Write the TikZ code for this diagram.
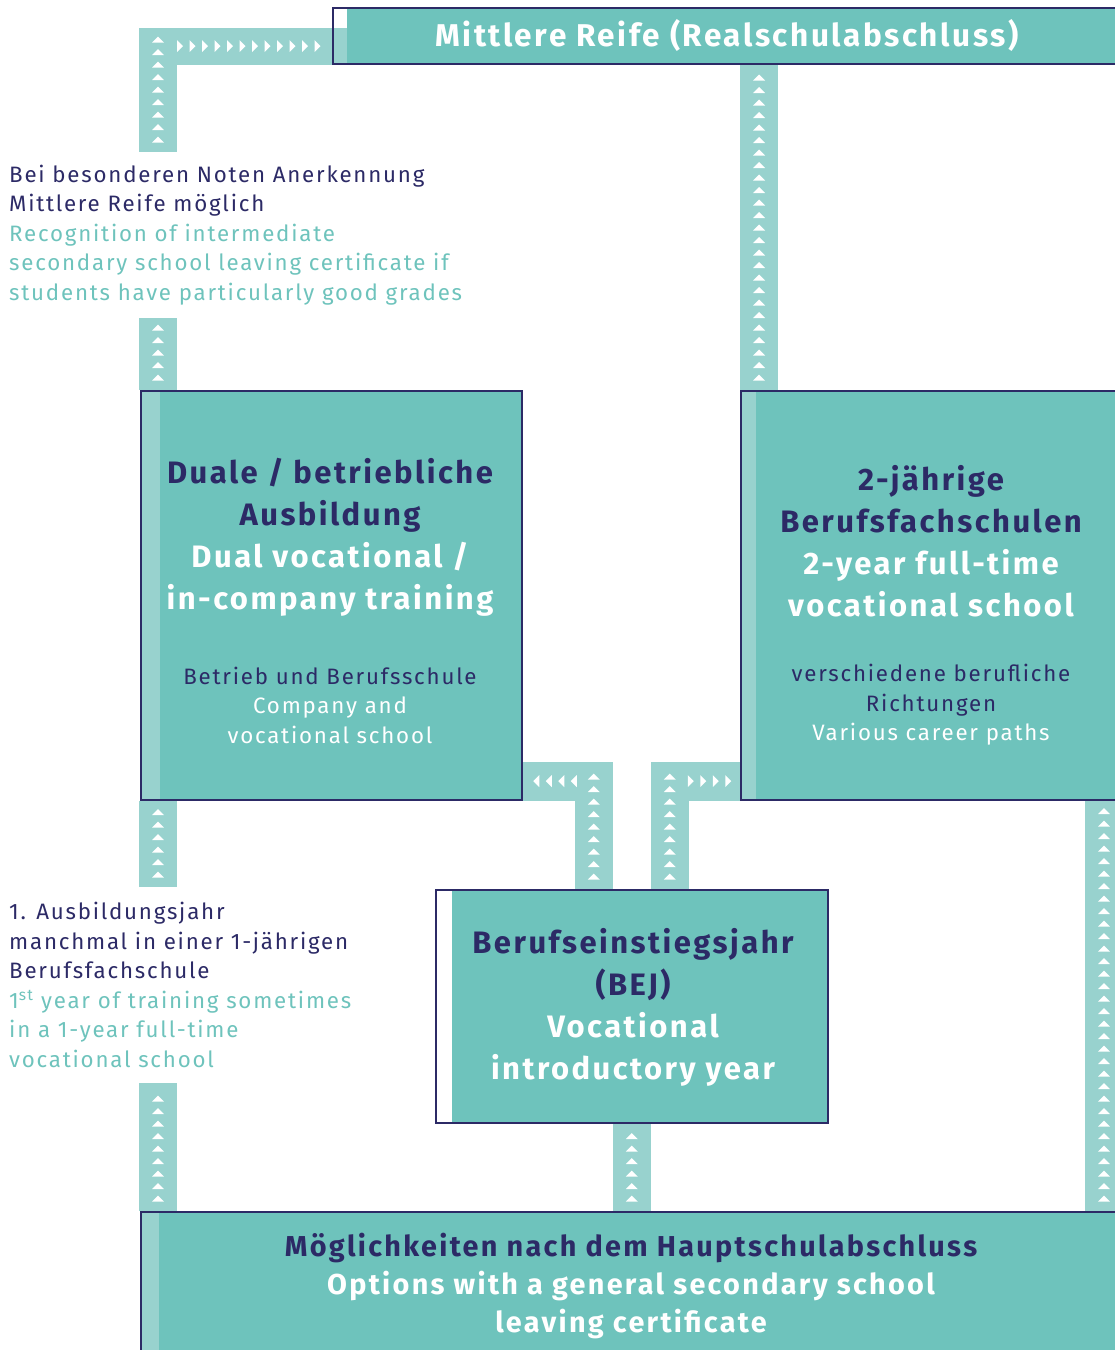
\documentclass[tikz,border=0pt]{standalone}
\usepackage{fontspec}
\setmainfont{Fira Sans}[LetterSpace=8]
\usepackage{tikz}
\usetikzlibrary{calc,backgrounds}
\definecolor{bbnavy}{HTML}{2C2A66}
\definecolor{bbteal}{HTML}{6EC3BC}
\definecolor{bbband}{HTML}{98D2CE}

\tikzset{
  band/.style={fill=bbband},
  boxframe/.style={draw=bbnavy, line width=1.5pt, inner sep=0pt, anchor=north west,
    path picture={\fill[bbteal] ([xshift=#1]path picture bounding box.north west)
      rectangle (path picture bounding box.south east);}},
  boxframe/.default=17pt,
  headtext/.style={text=white, font=\bfseries\fontsize{31}{42}\selectfont, align=center, inner sep=0pt},
  subtext/.style={text=white, font=\fontsize{22.3}{29.5}\selectfont, align=center, inner sep=0pt},
  notetext/.style={text=bbteal, font=\fontsize{22.3}{29.5}\selectfont, align=left,
    anchor=west, inner xsep=0pt, inner ysep=12.5pt},
}

% upward band: bottom point, top point, number of triangles
\newcommand\upband[3]{%
  \fill[band] ($(#1)+(-19,0)$) rectangle ($(#2)+(19,0)$);
  \foreach \tri in {1,...,#3}
    \fill[white] ($(#1)+(0,-12.5*\tri)$) +(-6,3) -- +(6,3) -- +(0,-3) -- cycle;
}

\begin{document}
\begin{tikzpicture}[x=1pt, y=-1pt]
  \useasboundingbox (0,0) rectangle (1115,1350);

  % boxes
  \node[boxframe=14pt, minimum width=800pt, minimum height=56pt] (mreife) at (332,7) {};
  \node[boxframe=19pt, fill=bbband, minimum width=381pt, minimum height=409pt] (dual) at (140,390) {};
  \node[boxframe=15pt, fill=bbband, minimum width=400pt, minimum height=409pt] (rtwo) at (740,390) {};
  \node[boxframe=16pt, minimum width=392pt, minimum height=233pt] (bej) at (435,889) {};
  \node[boxframe=18pt, fill=bbband, minimum width=1000pt, minimum height=200pt] (haupt) at (140,1211) {};

  % texts
  \node[headtext, font=\bfseries\fontsize{31.5}{42}\selectfont] (mreifetext) at (727,35) {Mittlere Reife (Realschulabschluss)};
  \node[headtext] (dualhead) at (330,537)
    {\textcolor{bbnavy}{Duale / betriebliche}\\\textcolor{bbnavy}{Ausbildung}\\Dual vocational /\\in-company training};
  \node[subtext] (dualsub) at (330,705)
    {\textcolor{bbnavy}{Betrieb und Berufsschule}\\Company and\\vocational school};
  \node[headtext] (rtwohead) at (931,541)
    {\textcolor{bbnavy}{2-jährige}\\\textcolor{bbnavy}{Berufsfachschulen}\\2-year full-time\\vocational school};
  \node[subtext] (rtwosub) at (931,705)
    {\textcolor{bbnavy}{verschiedene berufliche}\\\textcolor{bbnavy}{Richtungen}\\Various career paths};
  \node[headtext] (bejhead) at (633,1007)
    {\textcolor{bbnavy}{Berufseinstiegsjahr}\\\textcolor{bbnavy}{(BEJ)}\\Vocational\\introductory year};
  \node[headtext, font=\bfseries\fontsize{28.8}{38.5}\selectfont] (haupthead) at (631,1286)
    {\textcolor{bbnavy}{Möglichkeiten nach dem Hauptschulabschluss}\\Options with a general secondary school\\leaving certificate};

  \node[notetext] (note1) at (9,235)
    {\textcolor{bbnavy}{Bei besonderen Noten Anerkennung}\\\textcolor{bbnavy}{Mittlere Reife möglich}\\Recognition of intermediate\\secondary school leaving certificate if\\students have particularly good grades};
  \node[notetext, inner ysep=15pt] (note2) at (9,985)
    {\textcolor{bbnavy}{1. Ausbildungsjahr}\\\textcolor{bbnavy}{manchmal in einer 1-jährigen}\\\textcolor{bbnavy}{Berufsfachschule}\\1\textsuperscript{st} year of training sometimes\\in a 1-year full-time\\vocational school};

  % bands
  \coordinate (lcol) at ($(dual.north west)+(18,0)$);
  \coordinate (mcol) at ($(rtwo.north west)+(19,0)$);
  \coordinate (rcol) at (1104,0);
  \coordinate (tl) at ($(bej.north)+(-38,0)$);
  \coordinate (tltop) at ($(tl)+(0,-127)$);
  \coordinate (tr) at ($(bej.north)+(38,0)$);
  \coordinate (trtop) at ($(tr)+(0,-127)$);

  \begin{scope}[on background layer]
    % note 1 to Mittlere Reife
    \fill[band] ($(lcol |- mreife.south)+(-19,-37)$) rectangle ($(mreife.south west)+(20,0)$);
    \upband{lcol |- note1.north}{lcol |- mreife.south}{9}
    \foreach \tri in {0,...,11}
      \fill[white] ($(lcol |- mreife.south)+(22+12.5*\tri,-18.5)$) +(-3,-6) -- +(-3,6) -- +(3,0) -- cycle;
    \upband{lcol |- dual.north}{lcol |- note1.south}{5}
    \upband{mcol |- rtwo.north}{mcol |- mreife.south}{25}
    \upband{lcol |- note2.north}{lcol |- dual.south}{6}
    \upband{lcol |- haupt.north}{lcol |- note2.south}{9}
    \upband{bej.south |- haupt.north}{bej.south}{6}
    \upband{rcol |- haupt.north}{rcol |- rtwo.south}{32}
    % BEJ to the two upper boxes
    \fill[band] ($(tltop)+(19,0)$) rectangle (dual.south east);
    \upband{tl}{tltop}{9}
    \foreach \tri in {0,...,3}
      \fill[white] ($(tl)+(-20-12.5*\tri,-108)$) +(3,-6) -- +(3,6) -- +(-3,0) -- cycle;
    \fill[band] ($(trtop)+(-19,0)$) rectangle (rtwo.south west);
    \upband{tr}{trtop}{9}
    \foreach \tri in {0,...,3}
      \fill[white] ($(tr)+(21+12.5*\tri,-108)$) +(-3,-6) -- +(-3,6) -- +(3,0) -- cycle;
  \end{scope}
\end{tikzpicture}
\end{document}
